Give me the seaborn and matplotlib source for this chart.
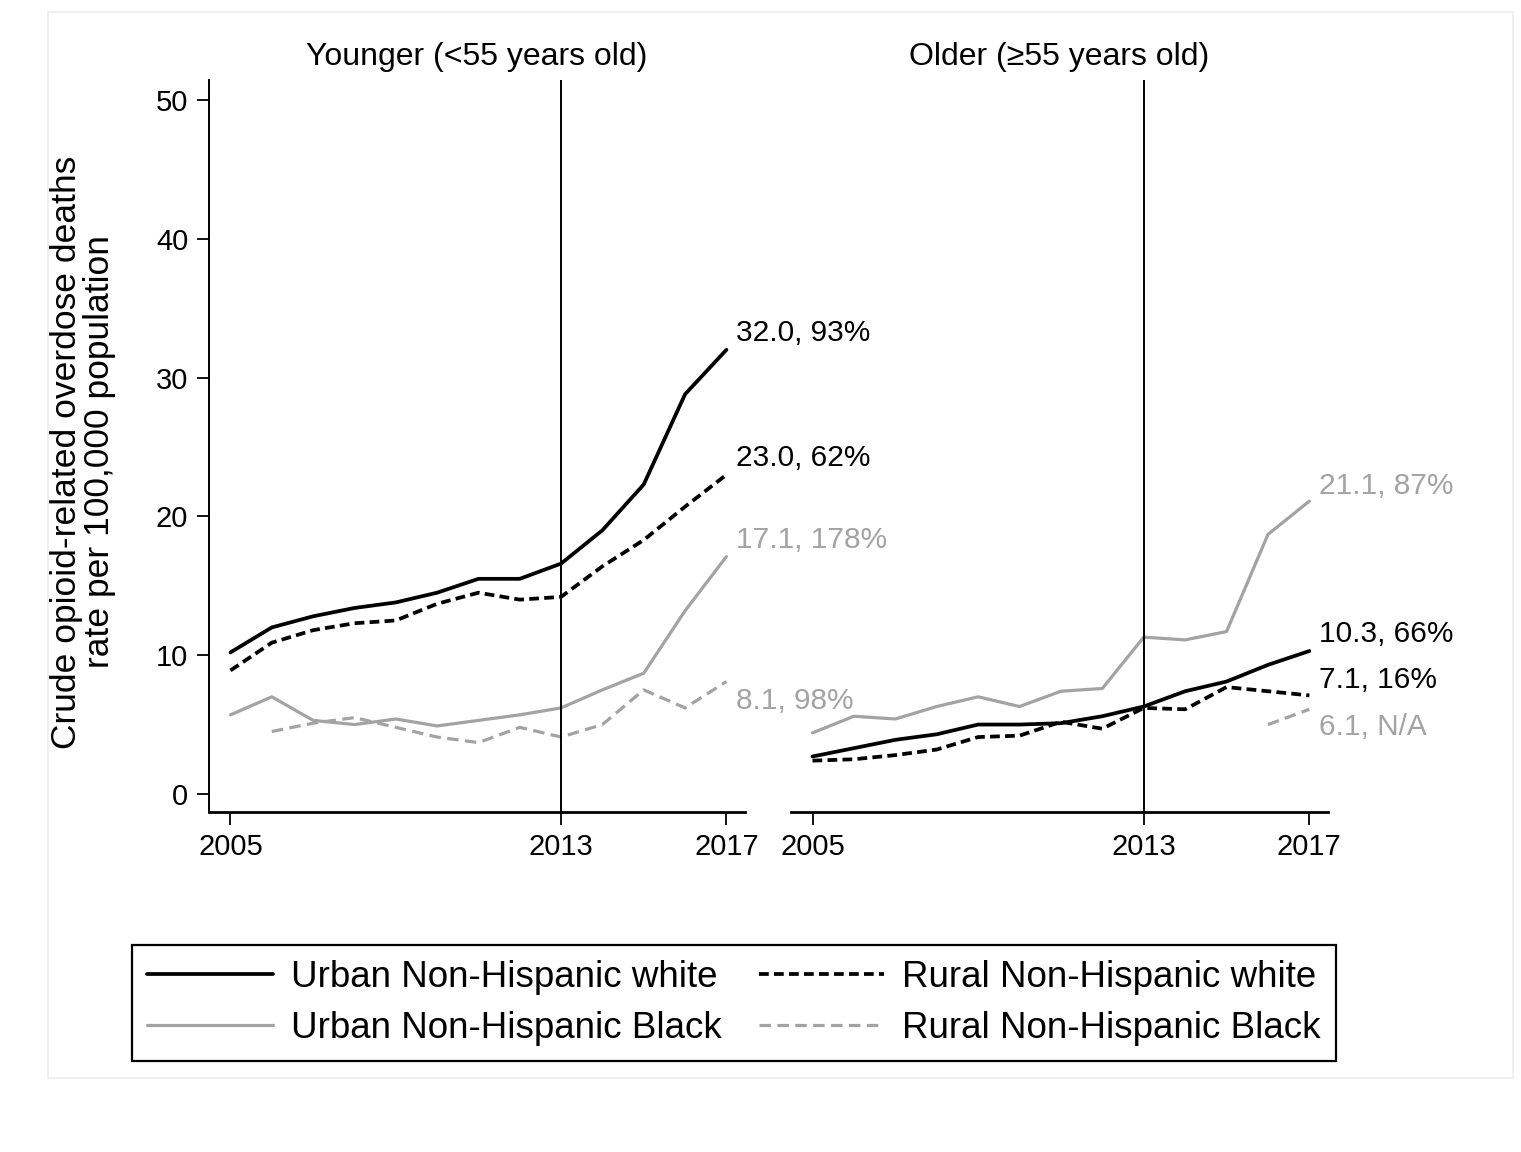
import numpy as np
import pandas as pd
import matplotlib
matplotlib.use("Agg")
import matplotlib.pyplot as plt
import seaborn as sns
from matplotlib.lines import Line2D
from matplotlib.patches import Rectangle

# Data (rate per 100,000)
years = list(range(2005, 2018))

young_urban_white = [10.2, 12.0, 12.8, 13.4, 13.8, 14.5, 15.5, 15.5, 16.6, 19.0, 22.3, 28.8, 32.0]
young_rural_white = [8.9, 10.9, 11.8, 12.3, 12.5, 13.7, 14.5, 14.0, 14.2, 16.4, 18.3, 20.7, 23.0]
young_urban_black = [5.7, 7.0, 5.3, 5.0, 5.4, 4.9, 5.3, 5.7, 6.2, 7.5, 8.7, 13.2, 17.1]
young_rural_black = [None, 4.5, 5.1, 5.5, 4.8, 4.1, 3.7, 4.8, 4.1, 5.0, 7.5, 6.2, 8.1]

old_urban_white = [2.7, 3.3, 3.9, 4.3, 5.0, 5.0, 5.1, 5.6, 6.3, 7.4, 8.1, 9.3, 10.3]
old_rural_white = [2.4, 2.5, 2.8, 3.2, 4.1, 4.2, 5.2, 4.7, 6.2, 6.1, 7.7, 7.4, 7.1]
old_urban_black = [4.4, 5.6, 5.4, 6.3, 7.0, 6.3, 7.4, 7.6, 11.3, 11.1, 11.7, 18.7, 21.1]
old_rural_black = [None, None, None, None, None, None, None, None, None, None, None, 5.0, 6.1]

young_labels = ["32.0, 93%", "23.0, 62%", "17.1, 178%", "8.1, 98%"]
old_labels = ["10.3, 66%", "7.1, 16%", "21.1, 87%", "6.1, N/A"]

series_names = ["Urban Non-Hispanic white", "Rural Non-Hispanic white",
                "Urban Non-Hispanic Black", "Rural Non-Hispanic Black"]

GRAY = "#a3a3a3"
styles = {
    "Urban Non-Hispanic white": dict(color="black", ls="-", lw=2.7),
    "Rural Non-Hispanic white": dict(color="black", ls=(0, (2.6, 1.4)), lw=2.7),
    "Urban Non-Hispanic Black": dict(color=GRAY, ls="-", lw=2.3),
    "Rural Non-Hispanic Black": dict(color=GRAY, ls=(0, (3.6, 2.0)), lw=2.3),
}

sns.set_theme(style="ticks")
plt.rcParams["font.family"] = ["Liberation Sans", "DejaVu Sans"]
plt.rcParams["text.color"] = "black"
plt.rcParams["xtick.color"] = "black"
plt.rcParams["ytick.color"] = "black"
plt.rcParams["axes.edgecolor"] = "black"

fig = plt.figure(figsize=(15.21, 11.52), dpi=100)
W, H = 1521, 1152

# faint frame like the reference screenshot
fig.patches.append(Rectangle((48 / W, 1 - 1078 / H), (1513 - 48) / W, (1078 - 12) / H,
                             transform=fig.transFigure, facecolor="none",
                             edgecolor="#eeeeee", lw=1.2))


def make_ax(left_px, right_px):
    return fig.add_axes([left_px / W, 1 - 812 / H, (right_px - left_px) / W, (812 - 80) / H])


ax1 = make_ax(209, 745)
ax2 = make_ax(791, 1328)


def draw_panel(ax, series, labels, offsets, title):
    for name, vals in zip(series_names, series):
        df = pd.DataFrame({"year": years, "rate": vals}).dropna()
        st = styles[name]
        sns.lineplot(data=df, x="year", y="rate", ax=ax, color=st["color"],
                     linestyle=st["ls"], linewidth=st["lw"], legend=False)
    ax.axvline(2013, color="black", lw=1.4)
    ax.set_xlim(2004.48, 2017.45)
    ax.set_ylim(-1.3, 51.44)
    ax.set_xticks([2005, 2013, 2017])
    ax.set_xlabel("")
    ax.set_ylabel("")
    ax.tick_params(axis="both", labelsize=21, length=9, width=1.3, color="black",
                   labelcolor="black", direction="out", pad=6)
    for sp in ["top", "right"]:
        ax.spines[sp].set_visible(False)
    ax.spines["bottom"].set_linewidth(2.0)
    ax.spines["left"].set_linewidth(1.4)
    ax.patch.set_alpha(0)
    for (name, vals), lab, off in zip(zip(series_names, series), labels, offsets):
        col = styles[name]["color"]
        ax.annotate(lab, xy=(2017, vals[-1]), xytext=off, textcoords="offset points",
                    ha="left", va="center", fontsize=21.5, color=col,
                    annotation_clip=False)
    ax.text(0.5, 1.0 + 23 / 732, title, transform=ax.transAxes, ha="center",
            va="center", fontsize=23, color="black")


young = [young_urban_white, young_rural_white, young_urban_black, young_rural_black]
old = [old_urban_white, old_rural_white, old_urban_black, old_rural_black]

draw_panel(ax1, young, young_labels,
           [(7, 12), (7, 12), (7, 12), (7, -14)], "Younger (<55 years old)")
draw_panel(ax2, old, old_labels,
           [(7, 12), (7, 11), (7, 11), (7, -13)], "Older (\u226555 years old)")

ax1.set_yticks([0, 10, 20, 30, 40, 50])
ax2.set_yticks([])
ax2.spines["left"].set_visible(False)

fig.text(83 / W, 1 - 452 / H, "Crude opioid-related overdose deaths\nrate per 100,000 population",
         rotation=90, ha="center", va="center", fontsize=25.5, linespacing=0.98, color="black")

# legend filled column-wise, so order gives rows: urban/rural white, urban/rural Black
leg_order = [series_names[0], series_names[2], series_names[1], series_names[3]]
handles = [Line2D([], [], color=styles[n]["color"], ls=styles[n]["ls"], lw=styles[n]["lw"])
           for n in leg_order]
leg = fig.legend(handles, leg_order, loc="center", bbox_to_anchor=(734 / W, 1 - 1003 / H),
                 ncol=2, fontsize=26.5, handlelength=3.4, handletextpad=0.5,
                 columnspacing=1.0, labelspacing=0.42, borderpad=0.42,
                 frameon=True, fancybox=False, edgecolor="black", framealpha=1)
leg.get_frame().set_linewidth(1.6)
for t in leg.get_texts():
    t.set_color("black")

fig.savefig("out.png", dpi=100, facecolor="white")
